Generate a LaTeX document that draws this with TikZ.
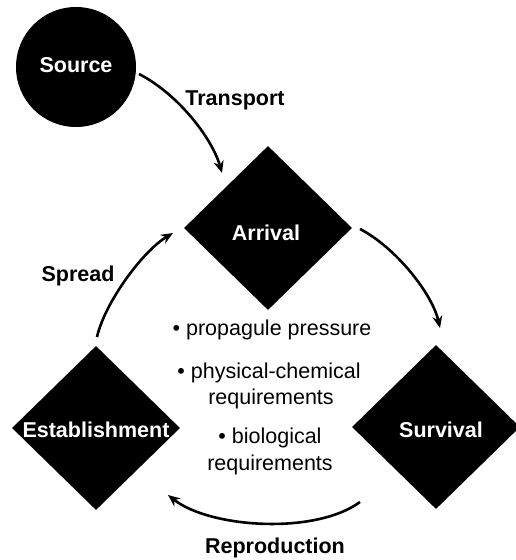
\documentclass[tikz,border=0pt]{standalone}
\usepackage{fontspec}
\setmainfont{Liberation Sans}
\usetikzlibrary{shapes.geometric,arrows.meta}
\begin{document}
\begin{tikzpicture}[x=1pt,y=-1pt,
  lbl/.style={font=\fontsize{21.5}{25}\selectfont\bfseries, inner sep=0pt, anchor=base},
  wlbl/.style={lbl, text=white},
  txt/.style={font=\fontsize{21.5}{25}\selectfont, inner sep=0pt, anchor=base},
  dmd/.style={diamond, fill=black, draw=none, minimum width=168pt, minimum height=164pt, inner sep=0pt},
  conn/.style={line width=2.6pt, -{Stealth[length=12pt,width=10pt]}}]
\path[use as bounding box, fill=white] (0,0) rectangle (515,560);
% shapes
\node[circle, fill=black, minimum size=120pt, inner sep=0pt] (src) at (76,67) {};
\node[dmd] (arr) at (268,228) {};
\node[dmd] (est) at (96,428) {};
\node[dmd] (sur) at (436,427) {};
% shape labels
\node[wlbl] (srcT) at (76,72) {Source};
\node[wlbl] (arrT) at (266,240) {Arrival};
\node[wlbl] (estT) at (96,437) {Establishment};
\node[wlbl] (surT) at (441,437) {Survival};
% connector ends
\coordinate (t1) at (139,74);
\coordinate (t2) at (222,173);
\coordinate (a1) at (360,229);
\coordinate (a2) at (440,328);
\coordinate (s1) at (97,337);
\coordinate (s2) at (173,233);
\coordinate (r1) at (360,502);
\coordinate (r2) at (168,495);
% connectors
\draw[conn] (t1) .. controls (178,94) and (212,138) .. (t2);
\draw[conn] (a1) .. controls (395,247) and (432,293) .. (a2);
\draw[conn] (s1) .. controls (105,302) and (143,251) .. (s2);
\draw[conn] (r1) .. controls (315,535) and (210,528) .. (r2);
% connector labels
\node[lbl] (trT) at (235,105) {Transport};
\node[lbl] (spT) at (78,281) {Spread};
\node[lbl] (reT) at (275,553) {Reproduction};
% middle text
\node[txt] (m1) at (272,335) {• propagule pressure};
\node[txt] (m2) at (269,378) {• physical-chemical};
\node[txt] (m3) at (271,404) {requirements};
\node[txt] (m4) at (270,443) {• biological};
\node[txt] (m5) at (270,470) {requirements};
\end{tikzpicture}
\end{document}
